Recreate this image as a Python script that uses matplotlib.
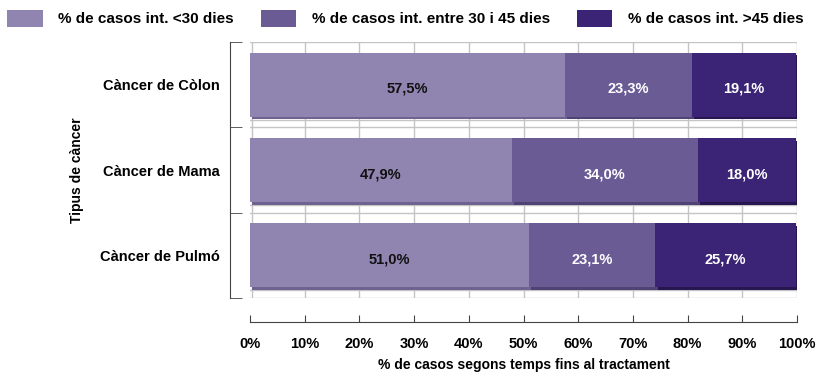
import numpy as np
import matplotlib.pyplot as plt
from matplotlib.patches import Patch

plt.rcParams['font.family'] = ['Liberation Sans', 'DejaVu Sans']
plt.rcParams['font.weight'] = 'bold'

categories = ["Càncer de Còlon", "Càncer de Mama", "Càncer de Pulmó"]
pct_lt30 = [57.5, 47.9, 51.0]
pct_30_45 = [23.3, 34.0, 23.1]
pct_gt45 = [19.1, 18.0, 25.7]
series_names = ["% de casos int. <30 dies", "% de casos int. entre 30 i 45 dies",
                "% de casos int. >45 dies"]
colors = ["#8f85b0", "#6a5b95", "#3b2476"]
shadows = ["#6d6290", "#4f4275", "#27164f"]
text_colors = ["#111111", "white", "white"]

fig = plt.figure(figsize=(8.18, 3.74), dpi=100)
ax = fig.add_axes([250/818, 1 - 298/374, 547/818, 256/374])

y = np.arange(len(categories))
h = 0.75
series = [pct_lt30, pct_30_45, pct_gt45]
left = np.zeros(len(categories))
for vals, c, sc, tc in zip(series, colors, shadows, text_colors):
    vals = np.array(vals)
    # shadow underneath for the 3d look
    ax.barh(y + 0.03, vals, left=left + 0.4, height=h, color=sc, zorder=2)
    ax.barh(y, vals, left=left, height=h, color=c, zorder=3)
    for yi, l, v in zip(y, left, vals):
        ax.text(l + v / 2, yi + 0.05, f"{v:.1f}%".replace(".", ","),
                ha="center", va="center", color=tc, fontsize=10.5,
                fontweight="bold", zorder=4)
    left += vals

ax.set_xlim(0, 100)
ax.set_ylim(len(categories) - 0.5, -0.5)

# grid
for xv in range(10, 101, 10):
    ax.axvline(xv, color="#c4c4c4", lw=1, zorder=1)
ax.axvline(0.4, color="#c4c4c4", lw=1, zorder=1)
for b in np.arange(-0.5, len(categories), 1):
    ax.axhline(b, color="#c4c4c4", lw=1, zorder=1)
for yi in y:
    ax.axhline(yi + 0.41, color="#c4c4c4", lw=1, zorder=1)

for s in ["top", "right"]:
    ax.spines[s].set_visible(False)
ax.spines["left"].set_position(("outward", 14.5))
ax.spines["bottom"].set_position(("outward", 17))
ax.spines["left"].set_color("#444444")
ax.spines["bottom"].set_color("#444444")

ax.set_yticks(y)
ax.set_yticklabels(categories, fontsize=10.5, fontweight="bold")
ax.set_yticks(np.arange(-0.5, len(categories), 1), minor=True)
ax.tick_params(axis="y", which="major", length=0, pad=7)
ax.tick_params(axis="y", which="minor", direction="in", length=8.5, color="#444444")

ax.set_xticks(range(0, 101, 10))
ax.set_xticklabels([f"{v}%" for v in range(0, 101, 10)], fontsize=10.5,
                   fontweight="bold")
ax.tick_params(axis="x", direction="in", length=5, pad=11, color="#444444")

ax.set_xlabel("% de casos segons temps fins al tractament", fontsize=10,
              fontweight="bold", labelpad=5)
ax.set_ylabel("Tipus de càncer", fontsize=10, fontweight="bold", labelpad=12)

handles = [Patch(facecolor=c) for c in colors]
fig.legend(handles, series_names, loc="upper left",
           bbox_to_anchor=(7/818, 1 - 10/374), borderaxespad=0, borderpad=0,
           ncol=3, frameon=False, handlelength=2.35,
           handleheight=1.3, handletextpad=1.0, columnspacing=1.75,
           prop={"weight": "bold", "size": 11})

fig.savefig("out.png", dpi=100)
